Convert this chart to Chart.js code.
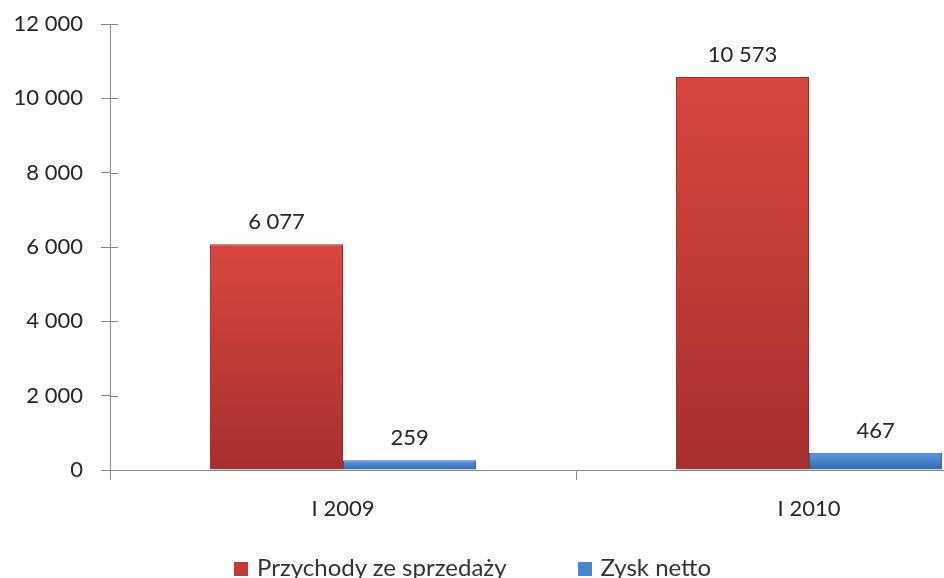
<!DOCTYPE html>
<html lang="pl">
  <head>
    <meta charset="UTF-8" />
    <title>Przychody i zysk netto</title>
    <style>
      body { margin: 0; background: #fff; overflow: hidden; }
      .wrap { position: relative; width: 1060px; height: 578px; }
      .legend {
        position: absolute; left: 234px; top: 552px;
        display: flex; align-items: center; line-height: 29px;
        font-family: Lato, sans-serif; font-size: 24px; color: #333;
      }
      .legend span.box { display: inline-block; width: 14px; height: 14px; margin-right: 9px; margin-top: 4px; }
      .legend .item { display: flex; align-items: center; margin-right: 71px; }
    </style>
  </head>
  <body>
    <div class="wrap">
      <canvas id="barChart" width="1060" height="578"></canvas>
      <div class="legend" id="legend"></div>
    </div>

    <script src="https://cdn.jsdelivr.net/npm/chart.js"></script>
    <script>
      // dane z wykresu
      const categories = ['I 2009', 'I 2010'];
      const seriesNames = ['Przychody ze sprzedaży', 'Zysk netto'];
      const przychody = [6077, 10573];
      const zysk = [259, 467];
      const yTicks = [0, 2000, 4000, 6000, 8000, 10000, 12000];

      const fmt = v => String(v).replace(/\B(?=(\d{3})+(?!\d))/g, ' ');

      // gradient pionowy dla kazdego slupka osobno
      function barGradient(top, bottom) {
        return ctx => {
          const chart = ctx.chart;
          if (!chart.chartArea || ctx.parsed == null) return top;
          const y = chart.scales.y;
          const y0 = y.getPixelForValue(ctx.parsed.y);
          const y1 = y.getPixelForValue(0);
          const g = chart.ctx.createLinearGradient(0, y0, 0, Math.max(y1, y0 + 1));
          g.addColorStop(0, top);
          g.addColorStop(1, bottom);
          return g;
        };
      }

      // etykiety wartosci nad slupkami + krotkie kreski osi Y po stronie wykresu
      const valueLabels = {
        id: 'valueLabels',
        afterDatasetsDraw(chart) {
          const ctx = chart.ctx;
          const y = chart.scales.y;
          ctx.save();
          ctx.strokeStyle = axisColor;
          ctx.lineWidth = 1;
          y.ticks.forEach(t => {
            const py = Math.round(y.getPixelForValue(t.value)) + 0.5;
            ctx.beginPath();
            ctx.moveTo(chart.chartArea.left, py);
            ctx.lineTo(chart.chartArea.left + 8, py);
            ctx.stroke();
          });
          ctx.font = '22px Lato, sans-serif';
          ctx.fillStyle = '#262626';
          ctx.textAlign = 'center';
          ctx.textBaseline = 'bottom';
          chart.data.datasets.forEach((ds, i) => {
            chart.getDatasetMeta(i).data.forEach((bar, j) => {
              ctx.fillText(fmt(ds.data[j]), bar.x, bar.y - 11);
            });
          });
          ctx.restore();
        }
      };

      const axisColor = '#868686';
      const font = { family: 'Lato, sans-serif', size: 22 };

      const chart = new Chart(document.getElementById('barChart').getContext('2d'), {
        type: 'bar',
        data: {
          labels: categories,
          datasets: [
            {
              label: seriesNames[0],
              data: przychody,
              backgroundColor: barGradient('#d9473f', '#a6302e'),
              borderColor: '#9c2c2a',
              borderWidth: 1
            },
            {
              label: seriesNames[1],
              data: zysk,
              backgroundColor: barGradient('#5b9be2', '#3366ad'),
              borderColor: '#2f5c9a',
              borderWidth: 1
            }
          ]
        },
        options: {
          responsive: false,
          animation: false,
          layout: { padding: { top: 24, right: 18, left: 0, bottom: 0 } },
          datasets: { bar: { barPercentage: 1, categoryPercentage: 0.571 } },
          plugins: { legend: { display: false }, tooltip: { enabled: false } },
          scales: {
            x: {
              grid: { drawOnChartArea: false, tickLength: 10, color: axisColor },
              border: { color: axisColor },
              ticks: { font: font, color: '#262626', padding: 16 },
              afterFit: s => { s.height = 108; s.paddingLeft = 0; s.paddingRight = 0; }
            },
            y: {
              min: 0,
              max: 12000,
              afterBuildTicks: s => { s.ticks = yTicks.map(v => ({ value: v })); },
              grid: { drawOnChartArea: false, tickLength: 9, color: axisColor },
              border: { color: axisColor },
              ticks: { font: font, color: '#262626', padding: 18, callback: v => fmt(v) },
              afterFit: s => { s.width = 110; s.paddingTop = 0; s.paddingBottom = 0; }
            }
          }
        },
        plugins: [valueLabels]
      });

      // legenda pod wykresem
      const legend = document.getElementById('legend');
      chart.data.datasets.forEach((ds, i) => {
        const item = document.createElement('div');
        item.className = 'item';
        const box = document.createElement('span');
        box.className = 'box';
        box.style.background = i === 0 ? '#c23a36' : '#4a86d0';
        item.appendChild(box);
        item.appendChild(document.createTextNode(ds.label));
        legend.appendChild(item);
      });
    </script>
  </body>
</html>
